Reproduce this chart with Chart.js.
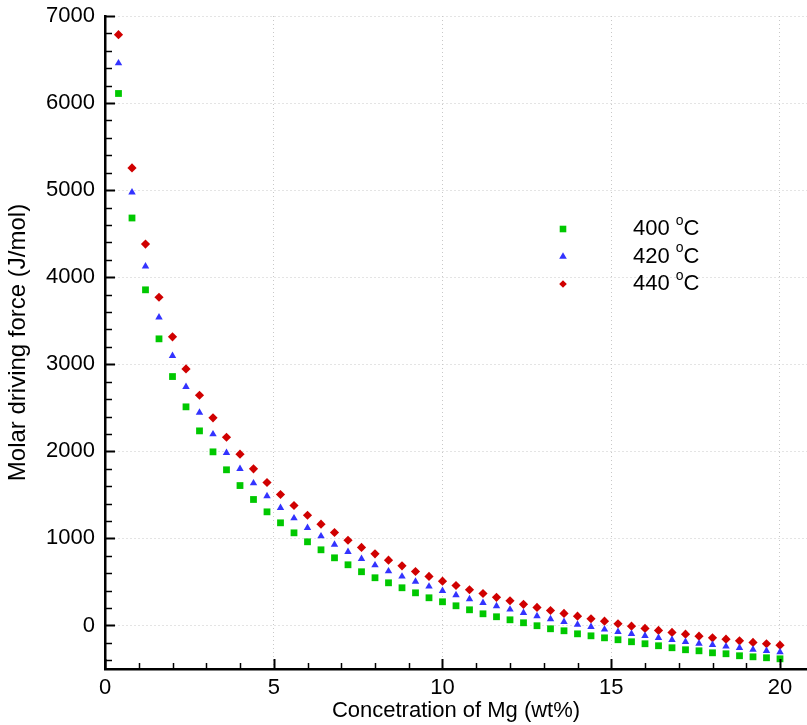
<!doctype html>
<html lang="en">
<head>
    <meta charset="utf-8">
    <script src="https://cdn.jsdelivr.net/npm/chart.js"></script>
    <style>
        body { margin: 0; background: #fff; }
        canvas { display: block; }
    </style>
</head>
<body>
    <canvas id="myChart" width="807" height="725"></canvas>
    <script>
        // Mg concentration (wt%)
        const conc = [0.4, 0.8, 1.2, 1.6, 2.0, 2.4, 2.8, 3.2, 3.6, 4.0,
            4.4, 4.8, 5.2, 5.6, 6.0, 6.4, 6.8, 7.2, 7.6, 8.0,
            8.4, 8.8, 9.2, 9.6, 10.0, 10.4, 10.8, 11.2, 11.6, 12.0,
            12.4, 12.8, 13.2, 13.6, 14.0, 14.4, 14.8, 15.2, 15.6, 16.0,
            16.4, 16.8, 17.2, 17.6, 18.0, 18.4, 18.8, 19.2, 19.6, 20.0];

        // molar driving force (J/mol)
        const force400 = [6110, 4680, 3855, 3292, 2859, 2511, 2235, 1994, 1788, 1607,
            1447, 1305, 1179, 1064, 961, 869, 777, 697, 617, 548,
            490, 433, 375, 318, 272, 226, 180, 134, 100, 65,
            31, -3, -38, -61, -96, -119, -142, -164, -187, -210,
            -233, -256, -279, -291, -314, -325, -348, -360, -371, -383];
        const force420 = [6458, 4975, 4125, 3540, 3096, 2741, 2445, 2197, 1983, 1799,
            1634, 1485, 1351, 1232, 1121, 1025, 930, 846, 766, 692,
            623, 563, 505, 448, 398, 348, 302, 260, 222, 184,
            146, 107, 73, 42, 11, -15, -46, -73, -96, -119,
            -142, -164, -187, -207, -222, -241, -256, -276, -291, -306];
        const force440 = [6785, 5255, 4380, 3770, 3315, 2947, 2644, 2385, 2162, 1967,
            1799, 1642, 1504, 1378, 1266, 1163, 1068, 979, 896, 823,
            750, 685, 620, 563, 509, 459, 410, 367, 323, 284,
            243, 207, 172, 138, 107, 77, 49, 20, -8, -34,
            -57, -80, -100, -123, -142, -157, -176, -195, -210, -226];

        const temps = ['400', '420', '440'];
        const xTicks = [0, 5, 10, 15, 20];
        const yTicks = [0, 1000, 2000, 3000, 4000, 5000, 6000, 7000];
        const FONT = "'Liberation Sans', Arial, Helvetica, sans-serif";

        function pts(vals) {
            return conc.map((c, i) => ({ x: c, y: vals[i] }));
        }

        // little marker shapes, used for the legend
        function marker(ctx, style, x, y, r, color) {
            ctx.fillStyle = color;
            ctx.beginPath();
            if (style === 'rect') {
                ctx.rect(x - r, y - r, 2 * r, 2 * r);
            } else if (style === 'triangle') {
                ctx.moveTo(x, y - r * 1.15);
                ctx.lineTo(x + r, y + r * 0.6);
                ctx.lineTo(x - r, y + r * 0.6);
                ctx.closePath();
            } else {
                ctx.moveTo(x, y - r);
                ctx.lineTo(x + r, y);
                ctx.lineTo(x, y + r);
                ctx.lineTo(x - r, y);
                ctx.closePath();
            }
            ctx.fill();
        }

        // ticks pointing into the plot (major + minor)
        const innerTicks = {
            id: 'innerTicks',
            afterDraw(chart) {
                const { ctx, chartArea: a, scales: { x, y } } = chart;
                ctx.save();
                ctx.strokeStyle = '#000';
                for (let v = 0; v <= 20; v++) {
                    const px = Math.round(x.getPixelForValue(v)) + 0.5;
                    const major = v % 5 === 0;
                    ctx.lineWidth = major ? 2 : 1.5;
                    ctx.beginPath();
                    ctx.moveTo(px, a.bottom);
                    ctx.lineTo(px, a.bottom - (major ? 10 : 6));
                    ctx.stroke();
                }
                for (let v = -400; v <= 7000; v += 200) {
                    const py = Math.round(y.getPixelForValue(v)) + 0.5;
                    const major = v % 1000 === 0;
                    ctx.lineWidth = major ? 2 : 1.5;
                    ctx.beginPath();
                    ctx.moveTo(a.left, py);
                    ctx.lineTo(a.left + (major ? 10 : 7), py);
                    ctx.stroke();
                }
                ctx.restore();
            }
        };

        // legend inside the plot, with the superscript o
        const innerLegend = {
            id: 'innerLegend',
            afterDraw(chart) {
                const ctx = chart.ctx;
                const mx = 563, tx = 633;
                const rows = [229, 256.5, 284];
                ctx.save();
                chart.data.datasets.forEach((ds, i) => {
                    const yy = rows[i];
                    marker(ctx, ds.pointStyle, mx, yy, ds.pointStyle === 'rect' ? 3.3 : 3.8, ds.backgroundColor);
                    ctx.fillStyle = '#000';
                    ctx.textBaseline = 'middle';
                    ctx.textAlign = 'left';
                    ctx.font = '22px ' + FONT;
                    const t = temps[i] + ' ';
                    ctx.fillText(t, tx, yy);
                    let w = ctx.measureText(t).width;
                    ctx.font = '14px ' + FONT;
                    ctx.fillText('o', tx + w, yy - 8);
                    w += ctx.measureText('o').width;
                    ctx.font = '22px ' + FONT;
                    ctx.fillText('C', tx + w, yy);
                });
                ctx.restore();
            }
        };

        const data = {
            datasets: [{
                label: '400 °C',
                data: pts(force400),
                pointStyle: 'rect',
                pointRadius: 4.8,
                backgroundColor: '#00c800',
                borderColor: '#00c800',
                borderWidth: 0,
                order: 1
            },
            {
                label: '420 °C',
                data: pts(force420),
                pointStyle: 'triangle',
                pointRadius: 4.3,
                backgroundColor: '#3333ff',
                borderColor: '#3333ff',
                borderWidth: 0,
                order: 2
            },
            {
                label: '440 °C',
                data: pts(force440),
                pointStyle: 'rectRot',
                pointRadius: 4.6,
                backgroundColor: '#d00000',
                borderColor: '#d00000',
                borderWidth: 0,
                order: 3
            }]
        };

        const config = {
            type: 'scatter',
            data: data,
            options: {
                responsive: false,
                animation: false,
                layout: { autoPadding: false, padding: { top: 16, right: 0, left: 0, bottom: 0 } },
                plugins: {
                    legend: { display: false },
                    tooltip: { enabled: false }
                },
                scales: {
                    x: {
                        type: 'linear',
                        min: 0,
                        max: 20.8,
                        afterFit: s => {
                            s.height = 56;
                            s.paddingLeft = 0;
                            s.paddingRight = 0;
                        },
                        afterBuildTicks: s => { s.ticks = xTicks.map(v => ({ value: v })); },
                        ticks: {
                            color: '#000',
                            padding: 6,
                            maxRotation: 0,
                            autoSkip: false,
                            callback: v => String(v),
                            font: { family: FONT, size: 22 }
                        },
                        grid: {
                            color: '#c8c8c8',
                            drawTicks: false,
                            lineWidth: 1
                        },
                        border: { color: '#000', width: 2.5, dash: [1, 3] },
                        title: {
                            display: true,
                            text: 'Concetration of Mg (wt%)',
                            color: '#000',
                            font: { family: FONT, size: 22 },
                            padding: { top: 0, bottom: 1 }
                        }
                    },
                    y: {
                        min: -500,
                        max: 7000,
                        afterFit: s => {
                            s.width = 105;
                            s.paddingTop = 0;
                            s.paddingBottom = 0;
                        },
                        afterBuildTicks: s => { s.ticks = yTicks.map(v => ({ value: v })); },
                        ticks: {
                            color: '#000',
                            padding: 10,
                            autoSkip: false,
                            callback: v => String(v),
                            font: { family: FONT, size: 22 }
                        },
                        grid: {
                            color: '#c8c8c8',
                            drawTicks: false,
                            lineWidth: 1
                        },
                        border: { color: '#000', width: 2.5, dash: [1, 3] },
                        title: {
                            display: true,
                            text: 'Molar driving force (J/mol)',
                            color: '#000',
                            font: { family: FONT, size: 24 },
                            padding: { top: 4, bottom: 0 }
                        }
                    }
                }
            },
            plugins: [innerTicks, innerLegend]
        };

        const myChart = new Chart(document.getElementById('myChart'), config);
    </script>
</body>
</html>
